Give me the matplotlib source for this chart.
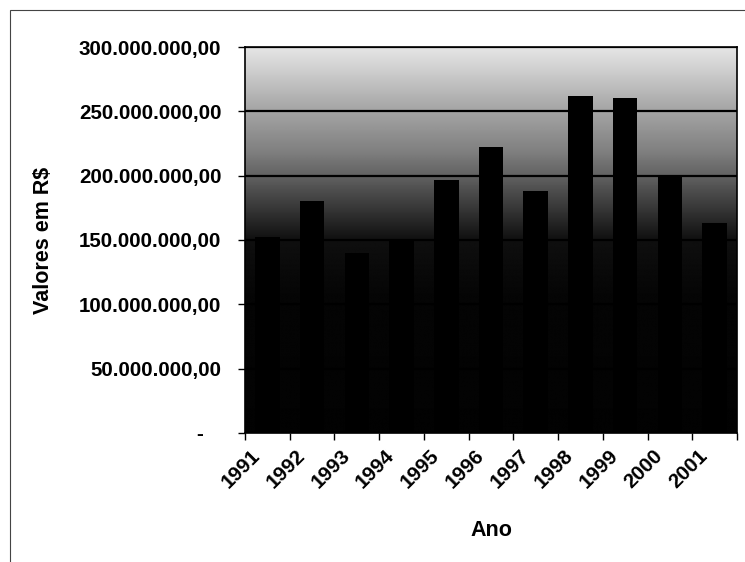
import numpy as np
import matplotlib
matplotlib.use("Agg")
import matplotlib.pyplot as plt
from matplotlib.ticker import FuncFormatter, FixedLocator
from matplotlib.patches import Rectangle
import matplotlib.transforms as mtransforms

plt.rcParams['font.family'] = ['Liberation Sans', 'DejaVu Sans']
plt.rcParams['font.weight'] = 'bold'

anos = ['1991', '1992', '1993', '1994', '1995', '1996',
        '1997', '1998', '1999', '2000', '2001']
valores = [152e6, 180e6, 140e6, 150e6, 197e6, 222e6,
           188e6, 262e6, 260e6, 199e6, 163e6]
y_ticks = [0, 50e6, 100e6, 150e6, 200e6, 250e6, 300e6]


def fmt_reais(v, pos=None):
    if v == 0:
        return '-   '
    s = f"{v:,.2f}"
    return s.replace(',', 'X').replace('.', ',').replace('X', '.')


fig = plt.figure(figsize=(7.45, 5.62), dpi=100)
ax = fig.add_axes([245 / 745, 1 - 433 / 562, 492 / 745, 386 / 562])

# moldura da área do gráfico
fig.patches.append(Rectangle((10 / 745, -0.1), 1.2, 1 - 10 / 562 + 0.1,
                             transform=fig.transFigure, fill=False,
                             edgecolor='#444444', linewidth=0.8))

# fundo em degradê (claro no topo, escuro embaixo)
frac = np.linspace(0, 1, 400)
brilho = np.interp(frac, [0.0, 0.35, 0.5, 0.6, 0.666, 0.73, 0.86, 1.0],
                   [0.01, 0.02, 0.06, 0.25, 0.38, 0.5, 0.68, 0.9])
grad = np.repeat(brilho[:, None], 2, axis=1)
ax.imshow(grad, cmap='gray', vmin=0, vmax=1, origin='lower', aspect='auto',
          extent=[0, 1, 0, 1], transform=ax.transAxes, zorder=0,
          interpolation='bilinear')

x = np.arange(len(anos))
ax.bar(x, valores, width=0.55, color='black', zorder=3)

ax.set_xlim(-0.5, len(anos) - 0.5)
ax.set_ylim(0, 300e6)
ax.set_yticks(y_ticks)
ax.yaxis.set_major_formatter(FuncFormatter(fmt_reais))
ax.yaxis.grid(True, color='black', linewidth=1.6, zorder=2)
ax.set_axisbelow(False)

ax.set_xticks(x)
ax.set_xticklabels(anos, rotation=45, ha='right', va='center',
                   rotation_mode='anchor')
ax.xaxis.set_minor_locator(FixedLocator(np.arange(len(anos) + 1) - 0.5))
ax.tick_params(axis='x', which='major', length=0, pad=14, labelsize=14.8)
ax.tick_params(axis='x', which='minor', length=5, width=1, direction='out')
ax.tick_params(axis='y', length=5, width=1, direction='out', pad=12,
               labelsize=14.8)
offset = mtransforms.ScaledTranslation(-10 / 100, 0, fig.dpi_scale_trans)
for lbl in ax.get_xticklabels():
    lbl.set_transform(lbl.get_transform() + offset)

for sp in ax.spines.values():
    sp.set_color('black')
    sp.set_linewidth(1.2)
    sp.set_zorder(4)

ax.set_xlabel('Ano', fontsize=15.5, fontweight='bold')
ax.set_ylabel('Valores em R$', fontsize=15.5, fontweight='bold')
ax.yaxis.set_label_coords(-(245 - 54) / 492, 0.5)
ax.xaxis.set_label_coords(0.5, -(520 - 433) / 386)

fig.savefig('out.png', dpi=100)
